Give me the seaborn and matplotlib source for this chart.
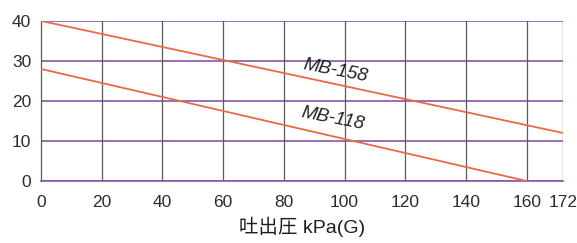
import pandas as pd
import seaborn as sns
import matplotlib.pyplot as plt

# --- Data ---
PRESSURE = [0, 172]          # kPa(G)
MB158_FLOW = [40, 12]
PRESSURE_118 = [0, 160]
MB118_FLOW = [28, 0]
X_TICKS = [0, 20, 40, 60, 80, 100, 120, 140, 160, 172]
Y_TICKS = [0, 10, 20, 30, 40]
X_LABEL = "吐出圧 kPa(G)"

LINE_COLOR = "#ea6a48"
HGRID_COLOR = "#8a55a8"
VGRID_COLOR = "#5a5a5a"


def main():
    df = pd.concat([
        pd.DataFrame({"pressure": PRESSURE, "flow": MB158_FLOW, "model": "MB-158"}),
        pd.DataFrame({"pressure": PRESSURE_118, "flow": MB118_FLOW, "model": "MB-118"}),
    ])

    sns.set_style("white")
    plt.rcParams['font.family'] = ['Liberation Sans', 'Noto Sans CJK JP', 'DejaVu Sans']

    fig = plt.figure(figsize=(5.77, 2.43), dpi=100)
    ax = fig.add_axes([0.071, 0.255, 0.905, 0.659])

    # grid lines first so the curves sit on top
    for y in Y_TICKS:
        ax.axhline(y, color=HGRID_COLOR, lw=1.2, zorder=1)
    for x in X_TICKS[1:]:
        ax.axvline(x, color=VGRID_COLOR, lw=0.9, zorder=1)

    sns.lineplot(data=df, x="pressure", y="flow", units="model", estimator=None,
                 color=LINE_COLOR, lw=1.3, ax=ax, zorder=3)

    ax.set_xlim(0, 172)
    ax.set_ylim(0, 40)
    ax.set_xticks(X_TICKS)
    ax.set_yticks(Y_TICKS)
    ax.tick_params(axis="both", length=4, width=0.9, color=VGRID_COLOR,
                   labelsize=12.5, labelcolor="#2c2c2c")
    ax.tick_params(axis="x", pad=6)
    ax.tick_params(axis="y", pad=3)

    for side in ["top", "right"]:
        ax.spines[side].set_visible(False)
    ax.spines["left"].set_color(VGRID_COLOR)
    ax.spines["left"].set_linewidth(0.9)
    ax.spines["bottom"].set_color(HGRID_COLOR)
    ax.spines["bottom"].set_linewidth(1.2)

    ax.set_xlabel(X_LABEL, fontsize=14, color="#1e1e1e", labelpad=5)
    ax.set_ylabel("")

    ax.text(97, 27.5, "MB-158", fontsize=13.5, style="italic", color="#222222",
            rotation=-11, ha="center", va="center", zorder=4)
    ax.text(96, 15.5, "MB-118", fontsize=13.5, style="italic", color="#222222",
            rotation=-11, ha="center", va="center", zorder=4)

    fig.savefig("out.png", dpi=100)


if __name__ == "__main__":
    main()
